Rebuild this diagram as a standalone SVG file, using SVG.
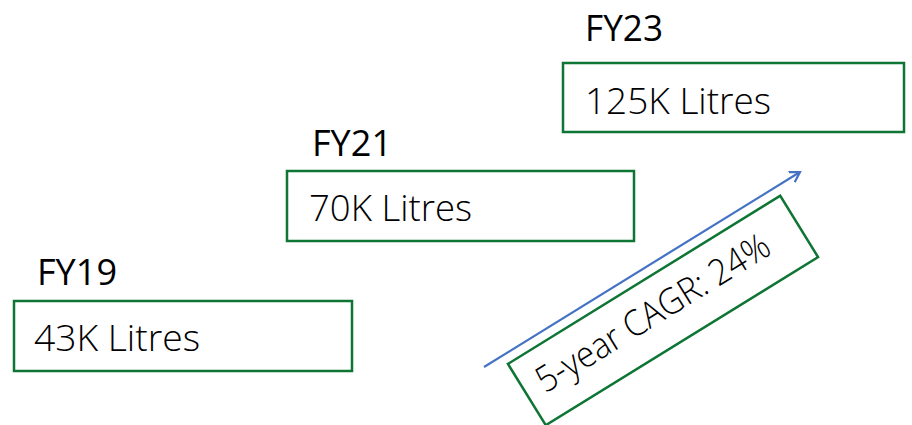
<svg xmlns="http://www.w3.org/2000/svg" width="912" height="425" viewBox="0 0 912 425">
<style>
.box{fill:#fff;stroke:#0E7535;stroke-width:2.5}
.lbl{font-family:"Open Sans","Liberation Sans",sans-serif;font-size:36px;fill:#000}
.val{font-family:"Open Sans","Liberation Sans",sans-serif;font-weight:300;font-size:36px;fill:#000}
.arrow{fill:none;stroke:#4472C4;stroke-width:2.2}
</style>
<defs>
<marker id="ah" markerWidth="14" markerHeight="14" refX="10" refY="6" orient="auto" markerUnits="userSpaceOnUse" viewBox="0 0 14 12">
<path d="M0,0 L10,6 L0,12" fill="none" stroke="#4472C4" stroke-width="2.2"/>
</marker>
</defs>
<rect width="912" height="425" fill="#fff"/>
<g id="fy19">
<text class="lbl" x="37" y="285" textLength="80" lengthAdjust="spacingAndGlyphs">FY19</text>
<rect class="box" x="14" y="301" width="338" height="70"/>
<text class="val" x="34" y="351" textLength="166" lengthAdjust="spacingAndGlyphs">43K Litres</text>
</g>
<g id="fy21">
<text class="lbl" x="312" y="156" textLength="80" lengthAdjust="spacingAndGlyphs">FY21</text>
<rect class="box" x="287" y="171" width="347" height="70"/>
<text class="val" x="309" y="221" textLength="163" lengthAdjust="spacingAndGlyphs">70K Litres</text>
</g>
<g id="fy23">
<text class="lbl" x="585" y="41" textLength="78" lengthAdjust="spacingAndGlyphs">FY23</text>
<rect class="box" x="563" y="63" width="341" height="69"/>
<text class="val" x="585" y="114" textLength="186" lengthAdjust="spacingAndGlyphs">125K Litres</text>
</g>
<g id="connectors">
<line class="arrow" x1="484" y1="367" x2="800" y2="172" marker-end="url(#ah)"/>
</g>
<g id="cagr" transform="translate(663 310.5) rotate(-31.7)">
<rect class="box" x="-160" y="-36" width="320" height="72"/>
<text class="val" x="-144" y="9" font-size="34" textLength="268" lengthAdjust="spacingAndGlyphs">5-year CAGR: 24%</text>
</g>
</svg>
